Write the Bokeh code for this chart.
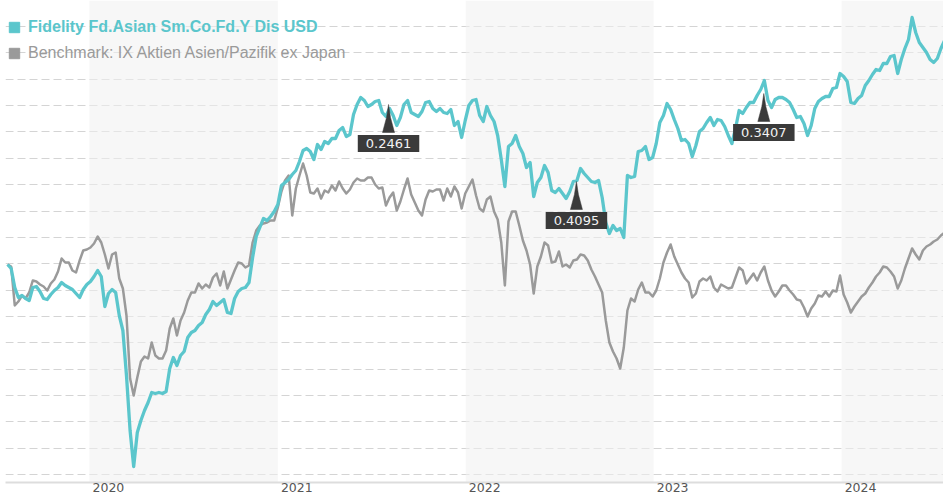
import pandas as pd
from bokeh.plotting import figure
from bokeh.models import (Range1d, FixedTicker, CustomJSTickFormatter, Legend,
                          LegendItem, Label, ColumnDataSource)
from bokeh.embed import file_html
from bokeh.resources import INLINE

# ---------------- data (weekly closes, index points) -------------
start_date = "2019-07-26"

fund = [210, 206, 187, 177, 179, 176, 174, 187, 188, 183,
        176, 175, 180, 184, 187, 192, 189, 187, 185, 181,
        177, 185, 190, 193, 198, 204, 198, 168, 181, 185,
        182, 159, 144, 99, 44, 8, 42, 54, 64, 72,
        82, 81, 82, 81, 83, 106, 117, 109, 119, 123,
        137, 142, 144, 149, 152, 160, 165, 173, 169, 172,
        175, 162, 161, 176, 183, 186, 187, 192, 217, 238,
        247, 256, 254, 258, 263, 270, 289, 292, 295, 300,
        304, 313, 324, 326, 323, 315, 330, 325, 333, 331,
        336, 336, 344, 347, 338, 340, 360, 370, 377, 374,
        368, 370, 373, 374, 362, 358, 366, 359, 349, 357,
        370, 374, 362, 360, 358, 363, 372, 373, 366, 363,
        366, 362, 361, 365, 349, 353, 337, 354, 369, 374,
        375, 359, 353, 368, 359, 353, 339, 315, 288, 328,
        331, 339, 328, 321, 307, 312, 278, 292, 297, 309,
        302, 284, 282, 286, 281, 276, 283, 293, 294, 306,
        301, 297, 293, 292, 294, 277, 252, 241, 249, 244,
        246, 237, 299, 297, 298, 323, 324, 328, 315, 317,
        331, 352, 359, 371, 365, 355, 346, 334, 335, 331,
        318, 329, 343, 346, 352, 357, 349, 355, 354, 348,
        339, 331, 346, 364, 361, 367, 372, 372, 379, 385,
        394, 374, 367, 375, 377, 377, 375, 372, 365, 357,
        358, 351, 339, 349, 366, 373, 376, 378, 378, 386,
        387, 401, 398, 393, 372, 371, 376, 379, 389, 394,
        400, 405, 404, 411, 411, 418, 419, 401, 415, 426,
        435, 457, 442, 432, 427, 422, 415, 412, 416, 426,
        434]

bench = [210, 208, 169, 173, 179, 176, 182, 194, 193, 190,
         188, 184, 191, 195, 203, 216, 212, 212, 204, 202,
         214, 224, 225, 227, 231, 238, 232, 220, 206, 220,
         222, 196, 186, 159, 96, 79, 97, 113, 118, 116,
         132, 119, 116, 116, 124, 146, 156, 139, 154, 162,
         174, 182, 182, 191, 186, 190, 187, 197, 201, 189,
         203, 186, 195, 204, 212, 211, 207, 209, 232, 244,
         249, 251, 252, 254, 254, 267, 283, 294, 299, 259,
         286, 299, 311, 299, 282, 281, 286, 276, 284, 282,
         289, 284, 293, 286, 281, 285, 292, 296, 294, 294,
         297, 297, 290, 286, 287, 269, 277, 282, 264, 273,
         285, 296, 280, 272, 264, 259, 275, 284, 283, 285,
         285, 274, 286, 278, 288, 282, 266, 281, 288, 295,
         279, 266, 263, 275, 278, 263, 255, 232, 189, 253,
         263, 263, 249, 234, 224, 210, 181, 208, 218, 232,
         229, 212, 213, 223, 208, 210, 207, 214, 215, 220,
         219, 214, 205, 198, 190, 182, 154, 132, 123, 116,
         106, 127, 164, 176, 173, 185, 192, 182, 182, 178,
         184, 196, 212, 222, 230, 218, 210, 202, 196, 192,
         177, 181, 193, 196, 194, 198, 187, 183, 190, 188,
         186, 187, 197, 207, 204, 191, 196, 201, 194, 202,
         208, 194, 184, 178, 183, 189, 189, 184, 180, 175,
         174, 167, 158, 166, 171, 179, 178, 183, 178, 184,
         183, 199, 180, 172, 162, 168, 173, 178, 181, 187,
         192, 198, 202, 208, 207, 203, 198, 186, 194, 206,
         216, 226, 220, 215, 224, 228, 230, 233, 235, 239,
         242]

fund_name = "Fidelity Fd.Asian Sm.Co.Fd.Y Dis USD"
bench_name = "Benchmark: IX Aktien Asien/Pazifik ex Japan"

year_labels = [2020, 2021, 2022, 2023, 2024]
shaded_years = [2020, 2022, 2024]

div_dates = ["2021-08-04", "2022-08-04", "2023-08-03"]
div_levels = [370, 293, 381]
div_amounts = ["0.2461", "0.4095", "0.3407"]

# ---------------- styling -------------
TEAL = "#5bc6cc"
GREY = "#9a9a9a"
BOX = "#3a3a3a"
Y0, Y1 = -8, 474
X0, X1 = pd.Timestamp("2019-07-22"), pd.Timestamp("2024-07-17")
FRAME_W, FRAME_H = 938, 482
PX_PER_DAY = FRAME_W / (X1 - X0).days
GRID_STEP = 26.35


def ms(ts):
    return ts.value / 1e6


dates = pd.date_range(start_date, periods=len(fund), freq="7D")
src = ColumnDataSource(dict(date=dates, fund=fund, bench=bench))

p = figure(width=943, height=500, frame_width=FRAME_W, frame_height=FRAME_H,
           x_axis_type="datetime", output_backend="svg",
           toolbar_location=None, x_range=Range1d(ms(X0), ms(X1)),
           y_range=Range1d(Y0, Y1), min_border_left=5, min_border_right=0,
           min_border_top=0, min_border_bottom=0)
p.outline_line_color = None
p.background_fill_color = "white"
p.border_fill_color = "white"

# alternating year bands
band_left = [ms(pd.Timestamp(f"{y}-01-01")) for y in shaded_years]
band_right = [ms(pd.Timestamp(f"{y + 1}-01-01")) for y in shaded_years]
p.quad(left=band_left, right=band_right, bottom=Y0, top=Y1,
       fill_color="#f0f0f0", fill_alpha=0.55, line_color=None)

# series
p.line("date", "bench", source=src, color=GREY, line_width=2.5, line_join="round")
p.line("date", "fund", source=src, color=TEAL, line_width=3.3, line_join="round")

# dividend callouts
px_day = pd.Timedelta(days=1 / PX_PER_DAY)
pt_xs, pt_ys = [], []
for d, lvl, txt in zip(div_dates, div_levels, div_amounts):
    t = pd.Timestamp(d)
    pt_xs.append([ms(t - 6 * px_day), ms(t - 2 * px_day), ms(t),
                  ms(t + 2 * px_day), ms(t + 6 * px_day)])
    pt_ys.append([lvl - 28, lvl - 13, lvl, lvl - 13, lvl - 28])
    p.add_layout(Label(x=ms(t), y=lvl, y_offset=-39, text=txt,
                       text_align="center", text_baseline="middle",
                       text_color="#f2f2f2", text_font="DejaVu Sans",
                       text_font_size="13px", background_fill_color=BOX,
                       background_fill_alpha=1.0,
                       padding=dict(left=8, right=8, top=4, bottom=4)))
p.patches(pt_xs, pt_ys, fill_color=BOX, line_color=BOX, line_width=0.5)

# axes & grid
ax = p.xaxis[0]
tick_shift = pd.Timedelta(days=19 / PX_PER_DAY)
ax.ticker = FixedTicker(ticks=[ms(pd.Timestamp(f"{y}-01-01") + tick_shift)
                               for y in year_labels], minor_ticks=[])
ax.formatter = CustomJSTickFormatter(code="return String(new Date(tick).getUTCFullYear());")
ax.major_tick_line_color = None
ax.minor_tick_line_color = None
ax.major_tick_out = 0
ax.major_tick_in = 0
ax.minor_tick_out = 0
ax.axis_line_color = "#dddddd"
ax.axis_line_width = 2
ax.major_label_text_color = "#555555"
ax.major_label_text_font = "DejaVu Sans"
ax.major_label_text_font_size = "12.5px"
ax.major_label_standoff = 0

p.yaxis.visible = False
p.xgrid.visible = False
p.ygrid.ticker = FixedTicker(ticks=[i * GRID_STEP for i in range(18)])
p.ygrid.grid_line_color = "#d4d4d4"
p.ygrid.grid_line_dash = "8 4"
p.ygrid.grid_line_width = 1

# legend (one per line so each can have its own text colour);
# the square swatches come from hidden scatter renderers of each series' first point
sq_f = p.scatter(x=dates[:1], y=fund[:1], marker="square", color=TEAL, visible=False)
sq_b = p.scatter(x=dates[:1], y=bench[:1], marker="square", color=GREY, visible=False)
for r, name, col, style, loc in [(sq_f, fund_name, TEAL, "bold", (-4, FRAME_H - 40)),
                                 (sq_b, bench_name, GREY, "normal", (-4, FRAME_H - 66))]:
    leg = Legend(items=[LegendItem(label=name, renderers=[r])], location=loc)
    leg.padding = 0
    leg.margin = 0
    leg.spacing = 0
    leg.glyph_width = 26
    leg.glyph_height = 26
    leg.label_height = 26
    leg.label_standoff = 1
    leg.label_text_font = "Liberation Sans"
    leg.label_text_font_size = "16px"
    leg.label_text_font_style = style
    leg.label_text_color = col
    leg.background_fill_alpha = 0
    leg.border_line_alpha = 0
    p.add_layout(leg)

open("out.html", "w").write(file_html(p, INLINE))
